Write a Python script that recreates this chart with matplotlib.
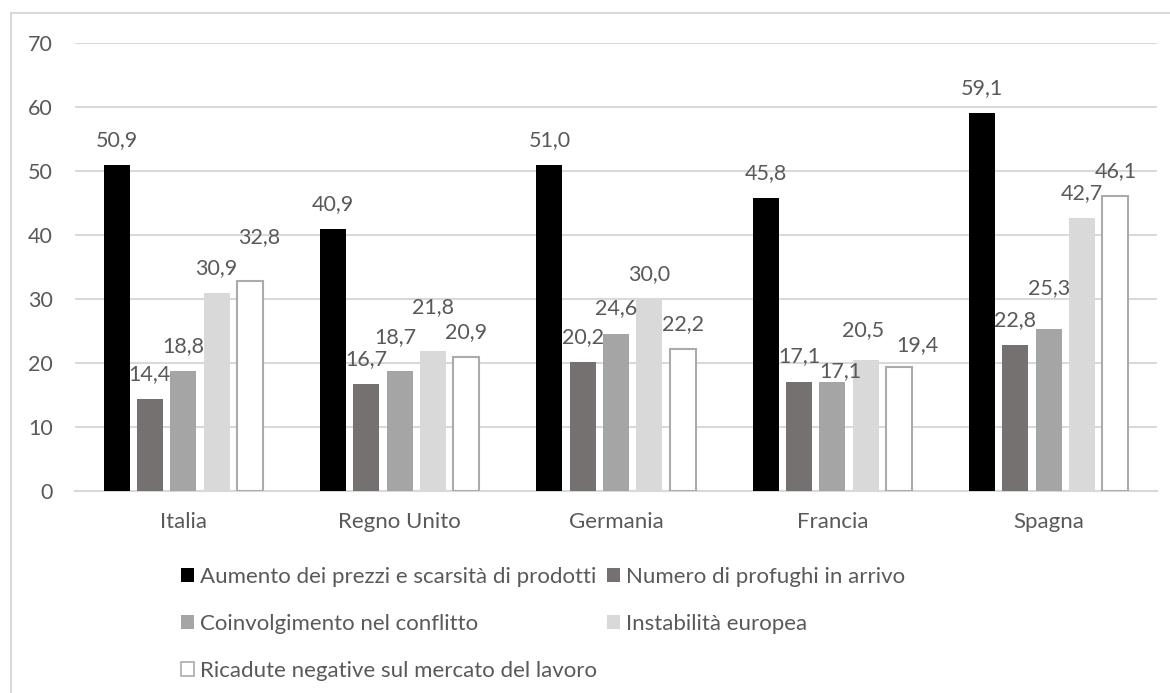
import numpy as np
import matplotlib.pyplot as plt
from matplotlib.patches import Patch, Rectangle

# dati
paesi = ["Italia", "Regno Unito", "Germania", "Francia", "Spagna"]
serie = ["Aumento dei prezzi e scarsità di prodotti",
         "Numero di profughi in arrivo",
         "Coinvolgimento nel conflitto",
         "Instabilità europea",
         "Ricadute negative sul mercato del lavoro"]
aumento_prezzi = [50.9, 40.9, 51.0, 45.8, 59.1]
profughi = [14.4, 16.7, 20.2, 17.1, 22.8]
coinvolgimento = [18.8, 18.7, 24.6, 17.1, 25.3]
instabilita = [30.9, 21.8, 30.0, 20.5, 42.7]
lavoro = [32.8, 20.9, 22.2, 19.4, 46.1]

valori = [aumento_prezzi, profughi, coinvolgimento, instabilita, lavoro]
colori = ["#000000", "#767171", "#A5A5A5", "#D9D9D9", "#FFFFFF"]
bordi = ["#000000", "#767171", "#A5A5A5", "#D9D9D9", "#AEAAAA"]

# spostamenti manuali delle etichette (pixel), come nel grafico Excel
spost = {(0, 4): (9, 44), (1, 2): (-4, 34), (1, 3): (0, 44),
         (3, 2): (8, 10), (3, 3): (-3, 30), (3, 4): (18, 22), (4, 2): (0, 41)}

plt.rcParams['font.family'] = ['Lato', 'DejaVu Sans']
grigio = "#595959"

fig = plt.figure(figsize=(11.70, 6.93), dpi=100)
ax = fig.add_axes([75 / 1170, 1 - 491 / 693, (1157 - 75) / 1170, (491 - 43) / 693])

x = np.arange(len(paesi))
passo = 0.154
larg = 0.12
for i, (v, c, b) in enumerate(zip(valori, colori, bordi)):
  pos = x + (i - 2) * passo
  ax.bar(pos, v, larg, color=c, edgecolor=b, linewidth=1.5 if i == 4 else 0, zorder=3)
  for j, val in enumerate(v):
    dx, dy = spost.get((j, i), (0, 25))
    ax.annotate(f"{val:.1f}".replace(".", ","), (pos[j], val),
                xytext=(dx, dy), textcoords="offset pixels",
                ha="center", va="center", fontsize=15.5, color=grigio, zorder=4)

ax.set_xlim(-0.5, 4.5)
ax.set_ylim(0, 70)
ax.set_yticks(range(0, 71, 10))
ax.set_xticks(x)
ax.set_xticklabels(paesi)
ax.yaxis.grid(True, color="#D9D9D9", linewidth=1.5, zorder=0)
ax.tick_params(length=0, labelcolor=grigio)
ax.tick_params(axis="y", pad=16, labelsize=15.5)
ax.tick_params(axis="x", pad=15, labelsize=16)
for s in ["top", "right", "left"]:
  ax.spines[s].set_visible(False)
ax.spines["bottom"].set_color("#D9D9D9")
ax.spines["bottom"].set_linewidth(1.5)

# cornice del grafico
fig.patches.append(Rectangle((11 / 1170, -0.1), 1.2, 1 - 13 / 693 + 0.1,
                             transform=fig.transFigure, fill=False,
                             edgecolor="#D9D9D9", linewidth=1.5))

maniglie = [Patch(facecolor=c, edgecolor=b, linewidth=1.2 if i == 4 else 0)
            for i, (c, b) in enumerate(zip(colori, bordi))]
ordine = [0, 2, 4, 1, 3]
fig.legend([maniglie[k] for k in ordine], [serie[k] for k in ordine],
           ncol=2, loc="upper left", bbox_to_anchor=(181 / 1170, 1 - 567 / 693),
           frameon=False, fontsize=16, labelcolor=grigio,
           handlelength=0.6, handleheight=0.6, handletextpad=0.25,
           columnspacing=0.45, labelspacing=1.22, borderpad=0, borderaxespad=0)

fig.savefig("out.png", dpi=100)
